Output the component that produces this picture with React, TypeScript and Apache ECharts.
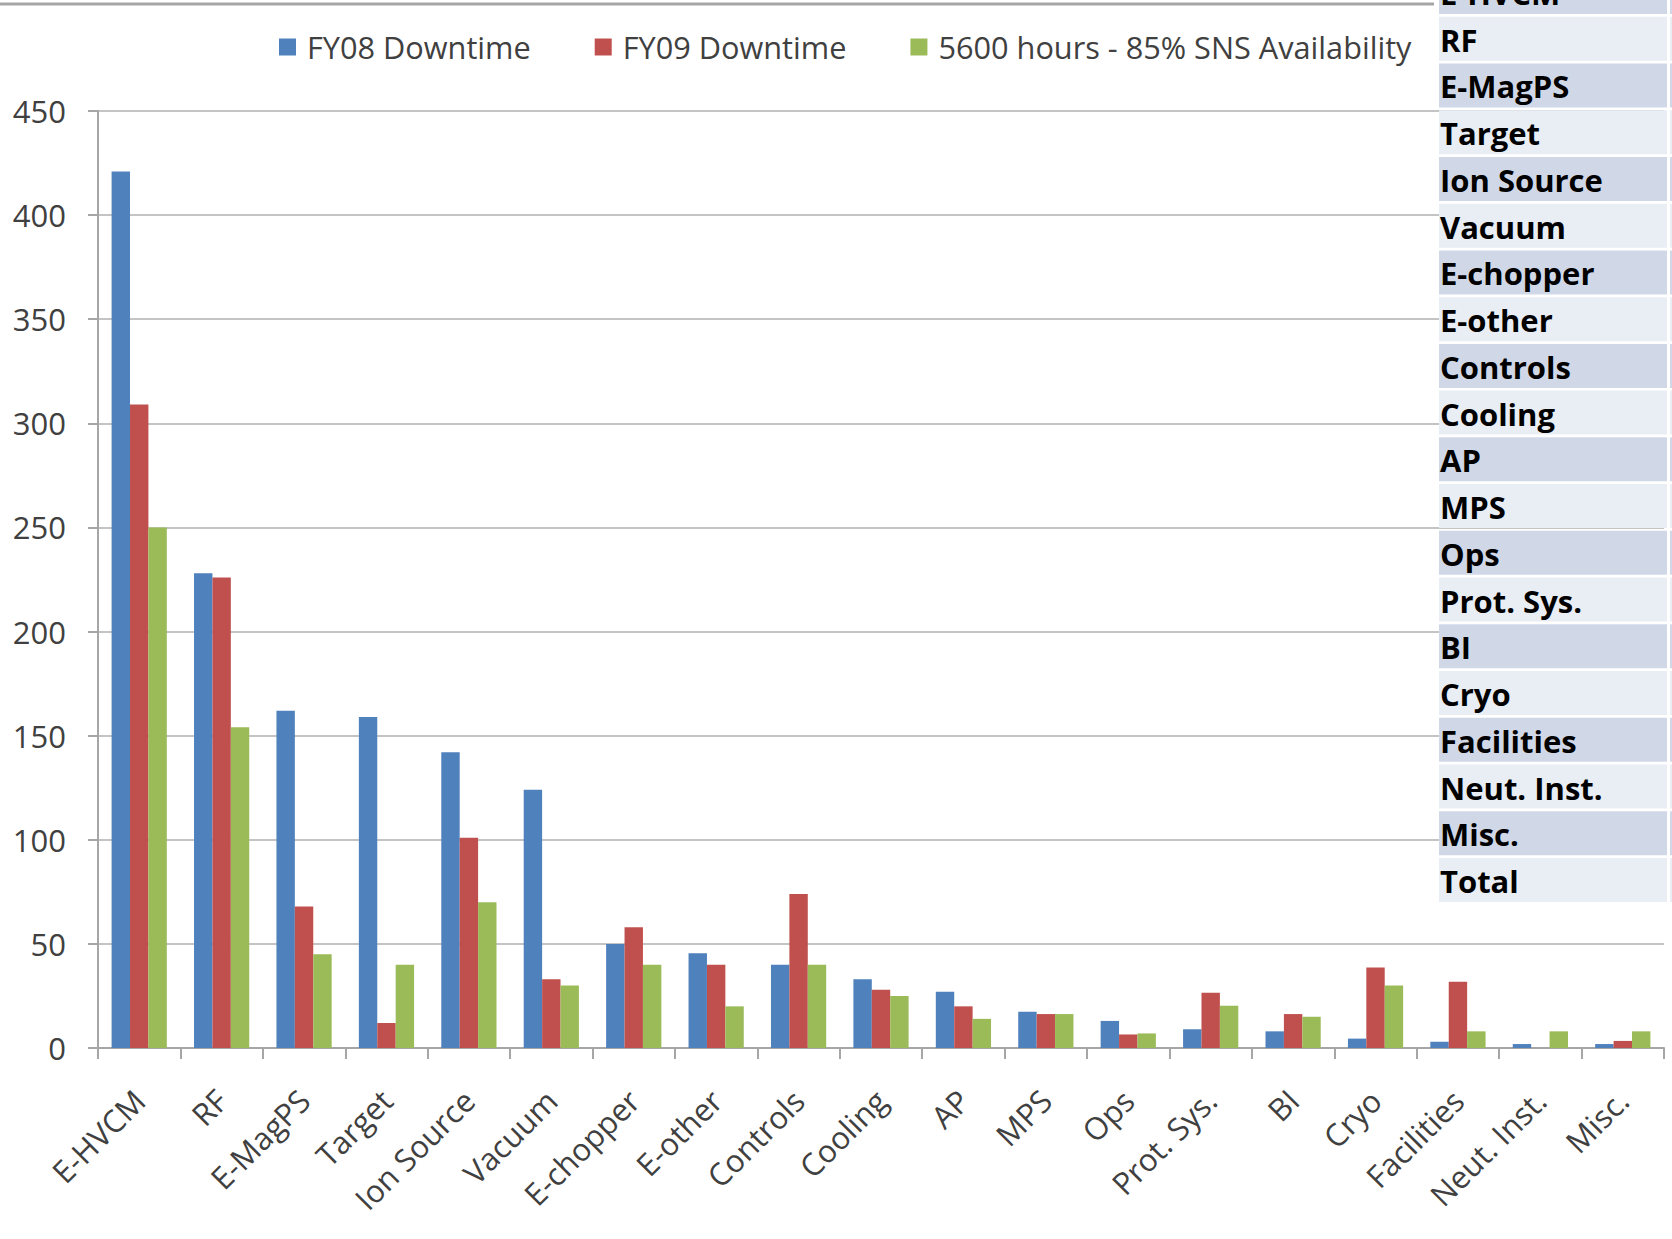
import React, { useEffect, useRef } from "react";
import * as echarts from "echarts";

const categories = ["E-HVCM", "RF", "E-MagPS", "Target", "Ion Source", "Vacuum", "E-chopper", "E-other", "Controls", "Cooling", "AP", "MPS", "Ops", "Prot. Sys.", "BI", "Cryo", "Facilities", "Neut. Inst.", "Misc."];
const fy08Downtime = [421, 228, 162, 159, 142, 124, 50, 45.5, 40, 33, 27, 17.4, 13, 9, 8, 4.5, 3, 1.9, 1.9];
const fy09Downtime = [309, 226, 68, 12, 101, 33, 58, 40, 74, 28, 20, 16.3, 6.5, 26.5, 16.3, 38.7, 31.8, 0, 3.4];
const availability = [250, 154, 45, 40, 70, 30, 40, 20, 40, 25, 14, 16.3, 7, 20.3, 15, 30, 8, 8, 8];
const seriesNames = ["FY08 Downtime", "FY09 Downtime", "5600 hours - 85% SNS Availability"];
const tableRows = ["E-HVCM", "RF", "E-MagPS", "Target", "Ion Source", "Vacuum", "E-chopper", "E-other", "Controls", "Cooling", "AP", "MPS", "Ops", "Prot. Sys.", "BI", "Cryo", "Facilities", "Neut. Inst.", "Misc.", "Total"];

const FONT = '"Open Sans", "Noto Sans", sans-serif';

export default function App() {
  const ref = useRef<HTMLDivElement>(null);
  useEffect(() => {
    if (!ref.current) return;
    const chart = echarts.init(ref.current, null, { renderer: "svg" });
    const rowPitch = 46.74;
    const tableEls: any[] = [];
    tableRows.forEach((name, i) => {
      const top = 16.7 + (i - 1) * rowPitch;
      const fill = i % 2 === 0 ? "#D0D8E8" : "#E9EDF4";
      tableEls.push({ type: "rect", z: 100, shape: { x: 1439, y: top, width: 228, height: 44 }, style: { fill } });
      tableEls.push({ type: "rect", z: 100, shape: { x: 1670, y: top, width: 10, height: 44 }, style: { fill } });
      tableEls.push({
        type: "text",
        z: 101,
        x: 1440,
        y: top + 23,
        style: { text: name, fontSize: 31, fontWeight: "bold", fontFamily: FONT, fill: "#000", verticalAlign: "middle", textVerticalAlign: "middle" },
      });
    });
    const barStyle = (c: string) => ({ color: c });
    chart.setOption({
      animation: false,
      backgroundColor: "#fff",
      textStyle: { fontFamily: FONT },
      legend: {
        data: seriesNames,
        left: 279,
        top: 30,
        padding: 0,
        icon: "rect",
        itemWidth: 17,
        itemHeight: 17,
        itemGap: 64,
        textStyle: { fontSize: 30.7, color: "#404040", fontFamily: FONT, lineHeight: 34, padding: [0, 0, 0, 6] },
      },
      grid: { left: 98, right: 8, top: 111, bottom: 191, containLabel: false },
      xAxis: {
        type: "category",
        data: categories,
        axisLine: { show: true, lineStyle: { color: "#a6a6a6", width: 2 } },
        axisTick: { show: true, alignWithLabel: false, length: 11, lineStyle: { color: "#a6a6a6", width: 2 } },
        axisLabel: { rotate: 45, interval: 0, margin: 47, fontSize: 31, color: "#404040", fontFamily: FONT },
      },
      yAxis: {
        type: "value",
        min: 0,
        max: 450,
        interval: 50,
        axisLine: { show: true, lineStyle: { color: "#a6a6a6", width: 2 } },
        axisTick: { show: true, length: 10, lineStyle: { color: "#a6a6a6", width: 2 } },
        axisLabel: { margin: 32, fontSize: 31, color: "#404040", fontFamily: FONT },
        splitLine: { show: true, lineStyle: { color: "#c4c4c4", width: 2 } },
      },
      series: [
        { name: seriesNames[0], type: "bar", data: fy08Downtime, itemStyle: barStyle("#4F81BD"), barGap: "0%", barCategoryGap: "33%" },
        { name: seriesNames[1], type: "bar", data: fy09Downtime, itemStyle: barStyle("#C0504D"), barGap: "0%", barCategoryGap: "33%" },
        { name: seriesNames[2], type: "bar", data: availability, itemStyle: barStyle("#9BBB59"), barGap: "0%", barCategoryGap: "33%" },
      ],
      graphic: [
        { type: "line", z: 100, shape: { x1: 0, y1: 4, x2: 1434, y2: 4 }, style: { stroke: "#a6a6a6", lineWidth: 3 } },
        { type: "group", z: 100, children: tableEls },
      ],
    });
    return () => chart.dispose();
  }, []);
  return <div ref={ref} style={{ position: "fixed", left: 0, top: 0, width: 1672, height: 1239 }} />;
}
